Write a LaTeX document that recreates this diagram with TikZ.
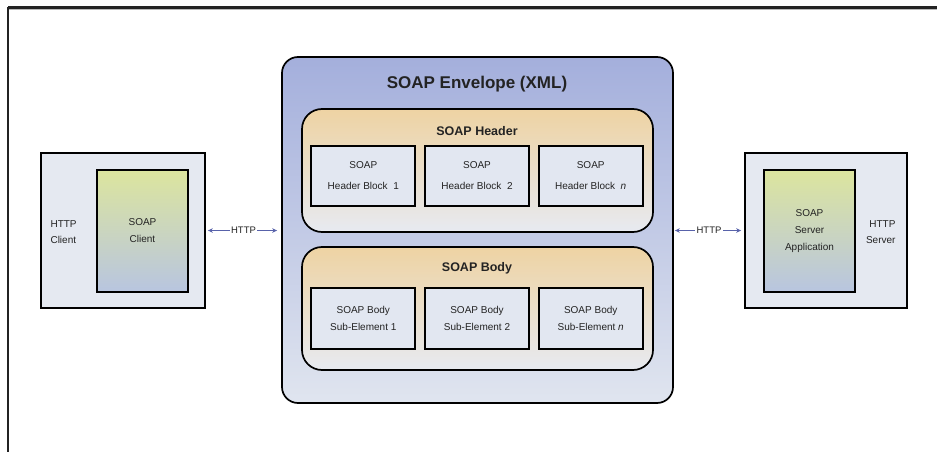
\documentclass[tikz,border=0pt]{standalone}
\usepackage{fontspec}
\setmainfont{Liberation Sans}
\usetikzlibrary{arrows.meta,positioning}
\definecolor{hostFill}{RGB}{229,233,241}
\definecolor{appTop}{RGB}{220,229,158}
\definecolor{appBottom}{RGB}{184,197,224}
\definecolor{envTop}{RGB}{164,175,220}
\definecolor{envBottom}{RGB}{224,229,239}
\definecolor{partTop}{RGB}{238,211,163}
\definecolor{partBottom}{RGB}{231,234,241}
\definecolor{blockFill}{RGB}{226,231,241}
\definecolor{arrowBlue}{RGB}{88,98,170}
\definecolor{textGray}{RGB}{35,35,35}
\definecolor{frameDark}{RGB}{35,35,35}
\tikzset{
  hostbox/.style={draw=black, fill=hostFill, line width=1.7pt,
    minimum width=#1, minimum height=155pt},
  appbox/.style={draw=black, top color=appTop, bottom color=appBottom, line width=1.7pt,
    minimum width=91pt, minimum height=122pt, align=center, text=textGray,
    font=\fontsize{10}{17}\selectfont},
  envbox/.style={draw=black, top color=envTop, bottom color=envBottom, line width=1.7pt,
    rounded corners=16pt, minimum width=391pt, minimum height=346pt},
  partbox/.style={draw=black, top color=partTop, bottom color=partBottom, line width=1.7pt,
    rounded corners=20pt, minimum width=351pt, minimum height=123pt},
  blockbox/.style={draw=black, fill=blockFill, line width=1.7pt,
    minimum width=104pt, minimum height=#1, align=center, text=textGray},
  hostlbl/.style={font=\fontsize{10}{16}\selectfont, text=textGray},
  partlbl/.style={font=\fontsize{12.5}{15}\selectfont\bfseries, text=textGray},
  harr/.style={{Stealth[length=5pt,width=4.5pt]}-{Stealth[length=5pt,width=4.5pt]},
    line width=1.8pt, color=arrowBlue},
  hlbl/.style={fill=white, inner sep=1.5pt, text=textGray, font=\fontsize{9.5}{11}\selectfont},
}

\begin{document}
\begin{tikzpicture}[x=1pt, y=-1pt]
\useasboundingbox (0,0) rectangle (937,452);

% FRAME
\draw[gray!55, line width=1pt] (8,10) -- (937,10);
\draw[frameDark, line width=3pt] (8,7.5) -- (937,7.5);
\draw[frameDark, line width=1.8pt] (8,7.5) -- (8,452);

%% LEFT - CLIENT
\node[hostbox=164pt] (clientHost) at (123,230.5) {};
\node[appbox] (clientApp) at (142.5,231) {SOAP\\Client};
\node[hostlbl, align=left, anchor=west] (clientLbl) at (47,232) {HTTP\\Client};

%% MIDDLE - ENVELOPE
\node[envbox] (env) at (477.5,230) {};
\node[font=\fontsize{17}{20}\selectfont\bfseries, text=textGray] (envLbl) at (477,84)
  {SOAP Envelope (XML)};

% header part
\node[partbox] (hdr) at (477.5,170.5) {};
\node[partlbl] (hdrLbl) at (477,131) {SOAP Header};
\node[blockbox=60pt, font=\fontsize{10}{21}\selectfont] (hb2) at (477,176)
  {SOAP\\Header Block\ \ 2};
\node[blockbox=60pt, font=\fontsize{10}{21}\selectfont, left=8pt of hb2] (hb1)
  {SOAP\\Header Block\ \ 1};
\node[blockbox=60pt, font=\fontsize{10}{21}\selectfont, right=8pt of hb2] (hb3)
  {SOAP\\Header Block\ \ \textit{n}};

% body part
\node[partbox] (bdy) at (477.5,308.5) {};
\node[partlbl] (bdyLbl) at (477,268) {SOAP Body};
\node[blockbox=61pt, font=\fontsize{10}{17}\selectfont] (bb2) at (477,318.5)
  {SOAP Body\\Sub-Element 2};
\node[blockbox=61pt, font=\fontsize{10}{17}\selectfont, left=8pt of bb2] (bb1)
  {SOAP Body\\Sub-Element 1};
\node[blockbox=61pt, font=\fontsize{10}{17}\selectfont, right=8pt of bb2] (bb3)
  {SOAP Body\\Sub-Element \textit{n}};

%% RIGHT - SERVER
\node[hostbox=162pt] (serverHost) at (826,230.5) {};
\node[appbox] (serverApp) at (809.5,231) {SOAP\\Server\\Application};
\node[hostlbl, align=right, anchor=east] (serverLbl) at (899,232) {HTTP\\Server};

%% ARROWS
\draw[harr, shorten <=2pt, shorten >=4pt] (clientHost.east) -- (env.west |- clientHost.east)
  node[hlbl, midway] {HTTP};
\draw[harr, shorten <=1pt, shorten >=3pt] (env.east |- serverHost.west) -- (serverHost.west)
  node[hlbl, midway] {HTTP};

\end{tikzpicture}
\end{document}
